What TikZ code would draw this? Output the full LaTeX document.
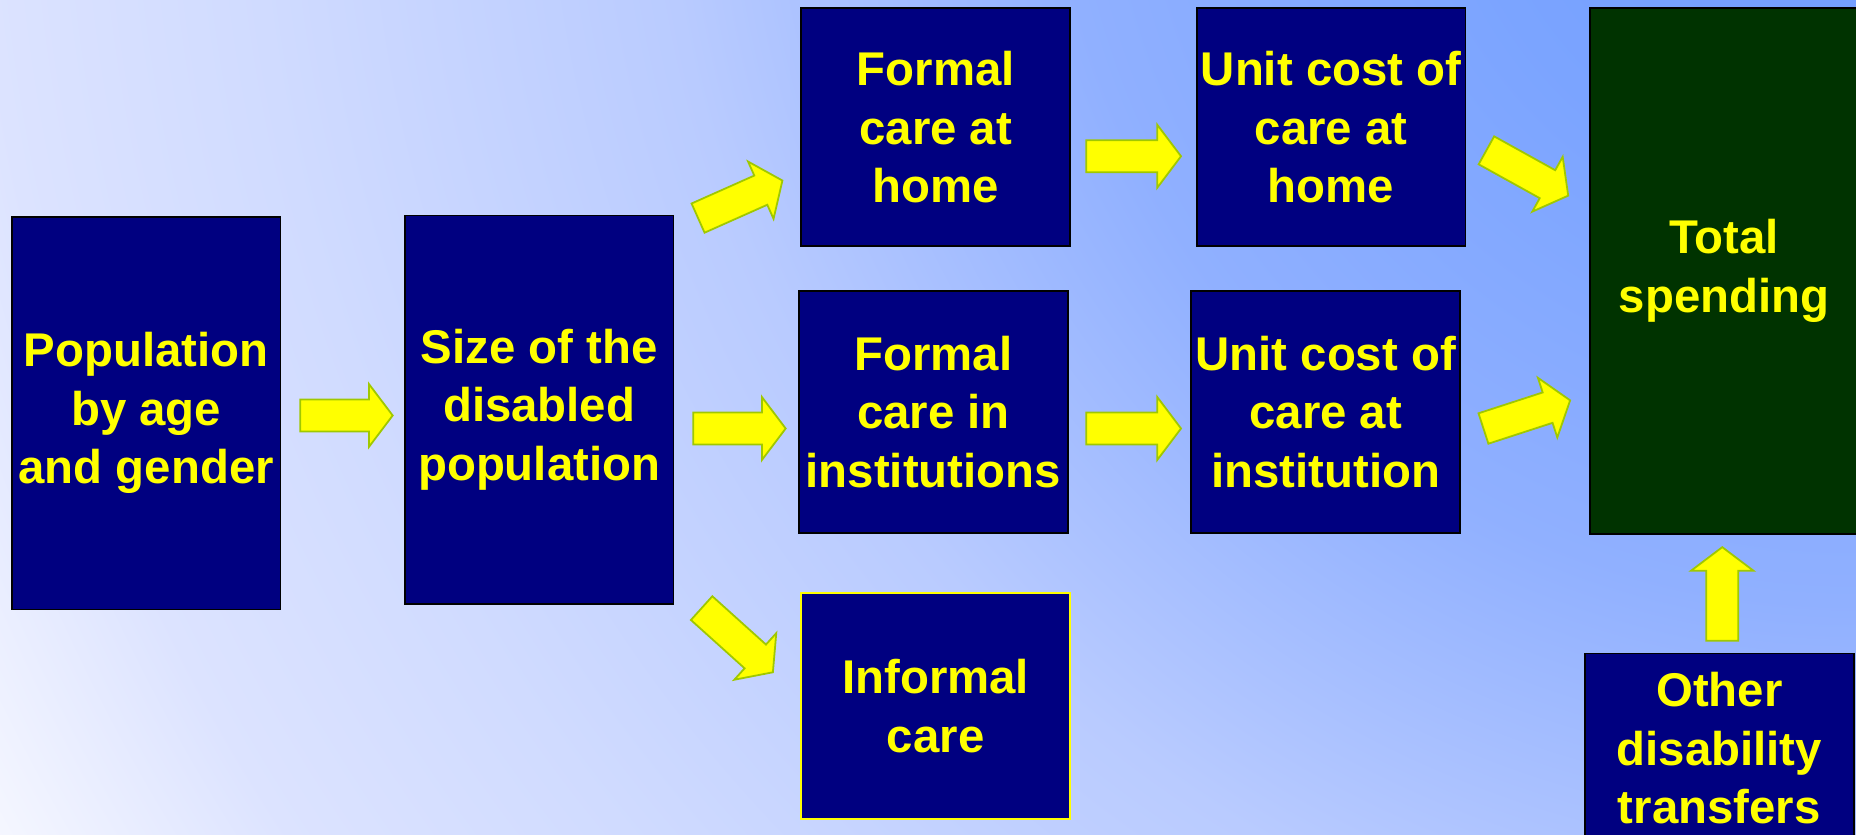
\documentclass[tikz,border=0pt]{standalone}
\usepackage{fontspec}
\setmainfont{Liberation Sans}
\usetikzlibrary{calc}
\definecolor{navybox}{HTML}{000080}
\definecolor{greenbox}{HTML}{003300}
\definecolor{txtyellow}{HTML}{FFFF00}
\definecolor{arrowfill}{HTML}{FFFF00}
\definecolor{arrowline}{HTML}{A0C800}
\definecolor{bga}{HTML}{6E9AFF}
\definecolor{bgb}{HTML}{7BA4FF}
\definecolor{bgc}{HTML}{90B0FF}
\definecolor{bgd}{HTML}{B9CBFF}
\definecolor{bge}{HTML}{D0DBFF}
\definecolor{bgf}{HTML}{DCE3FF}
\definecolor{bgg}{HTML}{F8F9FF}
\pgfdeclareradialshading{bgshade}{\pgfpoint{0bp}{0bp}}{color(0bp)=(bga); color(338bp)=(bgb); color(676bp)=(bgc); color(1006bp)=(bgd); color(1352bp)=(bge); color(1580bp)=(bgf); color(1817bp)=(bgg); color(1900bp)=(bgg)}
\newcommand\blockarrow[3]{%
  \begin{scope}[shift={#1}, rotate=#2]
    \draw[arrowstyle] (0,-13.5) -- ({#3-20},-13.5) -- ({#3-20},-26.5) -- (#3,0) -- ({#3-20},26.5) -- ({#3-20},13.5) -- (0,13.5) -- cycle;
  \end{scope}}
\begin{document}
\begin{tikzpicture}[x=1pt,y=-1pt,
  box/.style={draw=black, line width=1.5pt, fill=navybox, text=txtyellow,
    font=\bfseries\fontsize{40}{49.5}\selectfont, align=center, inner sep=0pt,
    minimum width=227pt},
  arrowstyle/.style={fill=arrowfill, draw=arrowline, line width=1.5pt, line join=miter}]
\useasboundingbox (0,0) rectangle (1568,705);
\begin{scope}
  \clip (0,0) rectangle (1568,705);
  \pgftransformshift{\pgfpoint{1568pt}{169pt}}
  \pgflowlevelsynccm
  \pgfuseshading{bgshade}
\end{scope}
\clip (0,0) rectangle (1568,705);

\node[box, minimum height=332pt] (pop) at (123.5,349) {Population\\by age\\and gender};
\node[box, minimum height=328pt] (size) at (455.5,346) {Size of the\\disabled\\population};
\node[box, minimum height=201pt] (fhome) at (790.5,107.5) {Formal\\care at\\home};
\node[box, minimum height=201pt] (uhome) at (1124.5,107.5) {Unit cost of\\care at\\home};
\node[box, minimum height=204pt] (finst) at (788.5,348) {Formal\\care in\\institutions};
\node[box, minimum height=204pt] (uinst) at (1120,348) {Unit cost of\\care at\\institution};
\node[box, draw=txtyellow, minimum height=191pt] (inf) at (790.5,596.5) {Informal\\care};
\node[box, fill=greenbox, minimum height=444pt] (total) at (1456.5,229) {Total\\spending};
\node[box, minimum height=160pt] (other) at (1452.5,632) {Other\\disability\\transfers};

\blockarrow{($(pop.east)+(16,2)$)}{0}{78}
\blockarrow{($(size.north east)+(20,3)$)}{24}{78}
\blockarrow{($(size.east)+(16,16)$)}{0}{78}
\blockarrow{($(size.south east)+(23,3)$)}{-42}{81}
\blockarrow{($(fhome.east)+(13,24.5)$)}{0}{80}
\blockarrow{($(finst.east)+(15,14)$)}{0}{80}
\blockarrow{($(uhome.east)+(17,19.5)$)}{-29}{79}
\blockarrow{($(uinst.east)+(19,14)$)}{18}{77}
\blockarrow{($(other.north)+(2.5,-10)$)}{90}{79}
\end{tikzpicture}
\end{document}
